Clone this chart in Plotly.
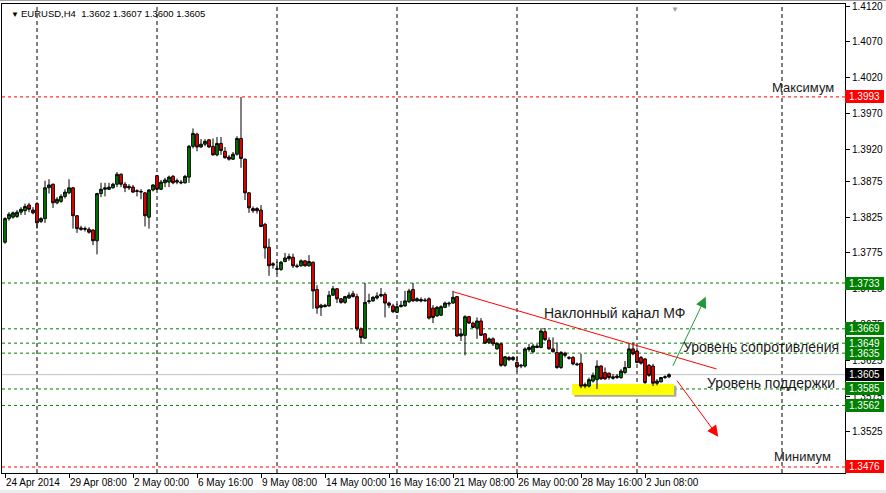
import plotly.graph_objects as go

# ---------------- data (EURUSD H4) ----------------
open_ = [1.3790,1.3823,1.3825,1.3826,1.3832,1.3834,1.3842,1.3835,1.3844,1.3819,
         1.3823,1.3866,1.3871,1.3845,1.3847,1.3854,1.3859,1.3866,1.3827,1.3810,
         1.3808,1.3808,1.3807,1.3792,1.3858,1.3864,1.3864,1.3866,1.3871,1.3885,
         1.3871,1.3868,1.3867,1.3862,1.3860,1.3859,1.3825,1.3863,1.3883,1.3864,
         1.3873,1.3874,1.3882,1.3874,1.3874,1.3873,1.3881,1.3924,1.3941,1.3923,
         1.3927,1.3933,1.3924,1.3912,1.3928,1.3917,1.3909,1.3906,1.3913,1.3935,
         1.3906,1.3859,1.3837,1.3837,1.3835,1.3815,1.3783,1.3760,1.3752,1.3752,
         1.3763,1.3767,1.3769,1.3757,1.3757,1.3764,1.3757,1.3762,1.3724,1.3699,
         1.3702,1.3701,1.3716,1.3725,1.3711,1.3706,1.3712,1.3718,1.3714,1.3669,
         1.3656,1.3707,1.3708,1.3712,1.3715,1.3717,1.3705,1.3701,1.3692,1.3700,
         1.3701,1.3707,1.3724,1.3708,1.3710,1.3708,1.3711,1.3698,1.3687,1.3688,
         1.3699,1.3705,1.3705,1.3714,1.3659,1.3660,1.3686,1.3677,1.3670,1.3680,
         1.3662,1.3650,1.3655,1.3641,1.3648,1.3618,1.3629,1.3626,1.3622,1.3617,
         1.3617,1.3640,1.3637,1.3645,1.3643,1.3665,1.3653,1.3641,1.3636,1.3615,
         1.3635,1.3629,1.3629,1.3620,1.3621,1.3589,1.3589,1.3596,1.3598,1.3617,
         1.3608,1.3607,1.3602,1.3601,1.3601,1.3608,1.3615,1.3641,1.3638,1.3629,
         1.3627,1.3618,1.3617,1.3593,1.3595,1.3601,1.3602]
high = [1.3825,1.3832,1.3833,1.3835,1.3839,1.3844,1.3845,1.3839,1.3846,1.3825,
        1.3876,1.3878,1.3872,1.3853,1.3857,1.3864,1.3878,1.3867,1.3828,1.3813,
        1.3812,1.3811,1.3808,1.3859,1.3873,1.3873,1.3873,1.3873,1.3888,1.3886,
        1.3874,1.3871,1.3870,1.3864,1.3864,1.3860,1.3864,1.3871,1.3884,1.3877,
        1.3880,1.3883,1.3884,1.3879,1.3877,1.3884,1.3926,1.3949,1.3943,1.3934,
        1.3934,1.3934,1.3935,1.3937,1.3937,1.3923,1.3912,1.3916,1.3938,1.3993,
        1.3907,1.3860,1.3840,1.3839,1.3842,1.3817,1.3795,1.3762,1.3763,1.3764,
        1.3775,1.3774,1.3774,1.3760,1.3766,1.3765,1.3772,1.3763,1.3730,1.3704,
        1.3704,1.3722,1.3729,1.3726,1.3712,1.3715,1.3720,1.3722,1.3718,1.3671,
        1.3733,1.3718,1.3715,1.3720,1.3726,1.3720,1.3707,1.3704,1.3704,1.3708,
        1.3722,1.3725,1.3733,1.3713,1.3713,1.3712,1.3713,1.3702,1.3701,1.3702,
        1.3707,1.3707,1.3722,1.3715,1.3669,1.3688,1.3687,1.3679,1.3685,1.3684,
        1.3663,1.3657,1.3657,1.3650,1.3650,1.3631,1.3631,1.3631,1.3631,1.3620,
        1.3643,1.3648,1.3648,1.3648,1.3670,1.3670,1.3657,1.3657,1.3650,1.3638,
        1.3637,1.3631,1.3631,1.3622,1.3634,1.3594,1.3601,1.3608,1.3625,1.3618,
        1.3615,1.3608,1.3606,1.3606,1.3613,1.3624,1.3648,1.3650,1.3643,1.3631,
        1.3628,1.3620,1.3620,1.3599,1.3601,1.3604,1.3607]
low = [1.3788,1.3820,1.3823,1.3824,1.3828,1.3828,1.3832,1.3829,1.3809,1.3817,
       1.3817,1.3858,1.3838,1.3843,1.3845,1.3851,1.3857,1.3809,1.3803,1.3806,
       1.3805,1.3802,1.3786,1.3773,1.3853,1.3854,1.3863,1.3865,1.3867,1.3867,
       1.3860,1.3863,1.3859,1.3854,1.3850,1.3812,1.3809,1.3861,1.3863,1.3863,
       1.3867,1.3867,1.3871,1.3871,1.3871,1.3872,1.3873,1.3921,1.3917,1.3922,
       1.3924,1.3922,1.3911,1.3910,1.3912,1.3907,1.3904,1.3905,1.3911,1.3894,
       1.3849,1.3831,1.3831,1.3830,1.3811,1.3767,1.3743,1.3753,1.3746,1.3750,
       1.3762,1.3764,1.3754,1.3754,1.3756,1.3756,1.3756,1.3697,1.3690,1.3687,
       1.3699,1.3700,1.3715,1.3705,1.3704,1.3704,1.3711,1.3713,1.3666,1.3648,
       1.3655,1.3704,1.3707,1.3710,1.3713,1.3685,1.3698,1.3691,1.3691,1.3699,
       1.3700,1.3705,1.3707,1.3707,1.3706,1.3707,1.3682,1.3677,1.3686,1.3687,
       1.3698,1.3700,1.3704,1.3658,1.3652,1.3632,1.3676,1.3670,1.3655,1.3659,
       1.3648,1.3648,1.3645,1.3640,1.3616,1.3616,1.3624,1.3624,1.3609,1.3614,
       1.3615,1.3637,1.3635,1.3642,1.3642,1.3652,1.3640,1.3636,1.3613,1.3613,
       1.3629,1.3626,1.3618,1.3617,1.3586,1.3586,1.3587,1.3594,1.3585,1.3598,
       1.3598,1.3598,1.3598,1.3599,1.3599,1.3606,1.3614,1.3632,1.3621,1.3619,
       1.3592,1.3602,1.3589,1.3590,1.3594,1.3599,1.3600]
close = [1.3823,1.3829,1.3831,1.3832,1.3836,1.3840,1.3836,1.3831,1.3817,1.3823,
         1.3866,1.3870,1.3845,1.3850,1.3854,1.3860,1.3866,1.3827,1.3809,1.3808,
         1.3809,1.3804,1.3792,1.3858,1.3864,1.3866,1.3867,1.3871,1.3885,1.3871,
         1.3866,1.3866,1.3860,1.3861,1.3861,1.3827,1.3863,1.3870,1.3864,1.3874,
         1.3877,1.3881,1.3873,1.3876,1.3873,1.3882,1.3924,1.3942,1.3923,1.3927,
         1.3931,1.3923,1.3912,1.3928,1.3918,1.3908,1.3906,1.3913,1.3935,1.3907,
         1.3859,1.3838,1.3834,1.3834,1.3812,1.3782,1.3757,1.3758,1.3753,1.3762,
         1.3768,1.3770,1.3757,1.3756,1.3764,1.3757,1.3763,1.3722,1.3698,1.3702,
         1.3700,1.3716,1.3725,1.3711,1.3706,1.3714,1.3716,1.3714,1.3669,1.3657,
         1.3706,1.3708,1.3713,1.3715,1.3717,1.3705,1.3702,1.3693,1.3700,1.3702,
         1.3708,1.3722,1.3708,1.3711,1.3708,1.3709,1.3684,1.3685,1.3699,1.3700,
         1.3705,1.3704,1.3713,1.3659,1.3662,1.3686,1.3677,1.3671,1.3680,1.3660,
         1.3649,1.3655,1.3648,1.3649,1.3618,1.3630,1.3626,1.3629,1.3616,1.3618,
         1.3641,1.3643,1.3645,1.3643,1.3666,1.3654,1.3641,1.3637,1.3615,1.3636,
         1.3632,1.3628,1.3620,1.3619,1.3589,1.3591,1.3598,1.3604,1.3617,1.3599,
         1.3599,1.3601,1.3600,1.3603,1.3610,1.3615,1.3641,1.3634,1.3622,1.3621,
         1.3594,1.3604,1.3593,1.3596,1.3601,1.3602,1.3605]
bars = list(range(len(close)))

x_tick_bars = [0, 16, 32, 48, 64, 80, 96, 112, 128, 144, 160]
x_tick_labels = ["24 Apr 2014", "29 Apr 08:00", "2 May 00:00", "6 May 16:00",
                 "9 May 08:00", "14 May 00:00", "16 May 16:00", "21 May 08:00",
                 "26 May 00:00", "28 May 16:00", "2 Jun 08:00"]
week_grid_bars = [8, 38, 68, 98, 128, 158, 194.25]

y_ticks = [1.4120, 1.4070, 1.4020, 1.3970, 1.3920, 1.3875, 1.3825, 1.3775,
           1.3725, 1.3675, 1.3625, 1.3575, 1.3525]
y_tick_text = ["1.4120", "1.4070", "1.4020", "1.3970", "1.3920", "1.3875", "1.3825",
               "1.3775", "1.3725", "1.3675", "1.3625", "1.3575", "1.3525"]

max_level, min_level = 1.3993, 1.3476
green_levels = [1.3733, 1.3669, 1.3649, 1.3635, 1.3585, 1.3562]
bid_level = 1.3605

trend_bars, trend_prices = [112, 177.9], [1.37209, 1.36129]
up_arrow_bars, up_arrow_prices = [166.8, 175.2], [1.36152, 1.37139]
down_arrow_bars, down_arrow_prices = [167.75, 178.3], [1.35985, 1.35183]
support_zone_bars, support_zone_prices = [141.75, 167.25], [1.35766, 1.35919]

FONT = "Liberation Sans"

fig = go.Figure(go.Candlestick(
    x=bars, open=open_, high=high, low=low, close=close,
    increasing=dict(line=dict(color="black", width=1), fillcolor="#008000"),
    decreasing=dict(line=dict(color="black", width=1), fillcolor="#ff0000"),
    whiskerwidth=0, showlegend=False, hoverinfo="skip"))

shapes = []
# window frame strips
shapes.append(dict(type="rect", xref="paper", yref="paper", layer="below",
                   x0=-0.01, x1=1.06, y0=1.0064, y1=1.0095,
                   fillcolor="#a0a0a0", line=dict(width=0)))
shapes.append(dict(type="rect", xref="paper", yref="paper", layer="below",
                   x0=-0.01, x1=1.06, y0=-0.0440, y1=-0.0365,
                   fillcolor="#ececec", line=dict(width=0)))
shapes.append(dict(type="rect", xref="x", yref="y", layer="below",
                   x0=support_zone_bars[0] + 0.6, x1=support_zone_bars[1] + 0.6,
                   y0=support_zone_prices[0] - 0.00025, y1=support_zone_prices[1] - 0.00025,
                   fillcolor="#a8a8a8", line=dict(width=0)))
shapes.append(dict(type="rect", xref="x", yref="y", layer="below",
                   x0=support_zone_bars[0], x1=support_zone_bars[1],
                   y0=support_zone_prices[0], y1=support_zone_prices[1],
                   fillcolor="#ffff00", line=dict(width=0)))
for xb in week_grid_bars:
    shapes.append(dict(type="line", xref="x", yref="paper", layer="below",
                       x0=xb, x1=xb, y0=0, y1=1,
                       line=dict(color="black", width=1, dash="4px,3px")))
shapes.append(dict(type="line", xref="paper", yref="y", layer="below",
                   x0=0, x1=1, y0=bid_level, y1=bid_level,
                   line=dict(color="#c0c0c0", width=1)))
for lv in green_levels:
    shapes.append(dict(type="line", xref="paper", yref="y", layer="below",
                       x0=0, x1=1, y0=lv, y1=lv,
                       line=dict(color="#008000", width=1, dash="3px,3px")))
for lv in (max_level, min_level):
    shapes.append(dict(type="line", xref="paper", yref="y", layer="below",
                       x0=0, x1=1, y0=lv, y1=lv,
                       line=dict(color="#ff0000", width=1, dash="3px,3px")))
shapes.append(dict(type="line", xref="x", yref="y",
                   x0=trend_bars[0], x1=trend_bars[1],
                   y0=trend_prices[0], y1=trend_prices[1],
                   line=dict(color="#ff0000", width=1)))

ann = []
ann.append(dict(xref="paper", yref="paper", x=0.0, y=1, xanchor="left", yanchor="top",
                xshift=7, yshift=-4, showarrow=False, text="▼",
                font=dict(family=FONT, size=8, color="black")))
ann.append(dict(xref="paper", yref="paper", x=0.0, y=1, xanchor="left", yanchor="top",
                xshift=17, yshift=-2, showarrow=False,
                text="EURUSD,H4&nbsp;&nbsp;1.3602 1.3607 1.3600 1.3605",
                font=dict(family=FONT, size=9.5, color="black")))
ann.append(dict(xref="x", yref="paper", x=167.5, y=1, xanchor="center", yanchor="top",
                yshift=1, showarrow=False, text="▼",
                font=dict(family=FONT, size=8, color="#a0a0a0")))
ann.append(dict(xref="x", yref="y", axref="x", ayref="y",
                x=up_arrow_bars[1], y=up_arrow_prices[1],
                ax=up_arrow_bars[0], ay=up_arrow_prices[0],
                showarrow=True, arrowhead=2, arrowsize=2.2, arrowwidth=1,
                arrowcolor="#1f9a3a", text=""))
ann.append(dict(xref="x", yref="y", axref="x", ayref="y",
                x=down_arrow_bars[1], y=down_arrow_prices[1],
                ax=down_arrow_bars[0], ay=down_arrow_prices[0],
                showarrow=True, arrowhead=2, arrowsize=2.2, arrowwidth=1,
                arrowcolor="#ff0000", text=""))
text_labels = [
    ("Наклонный канал МФ", 134.2, 1.3691, "left", 14),
    ("Уровень сопротивления", 169.0, 1.36436, "left", 14),
    ("Уровень поддержки", 175.0, 1.35933, "left", 14),
    ("Максимум", 207.75, 1.40068, "right", 13),
    ("Минимум", 207.0, 1.3490, "right", 13),
]
for txt, xb, yp, anchor, sz in text_labels:
    ann.append(dict(xref="x", yref="y", x=xb, y=yp, xanchor=anchor, yanchor="middle",
                    showarrow=False, text=txt,
                    font=dict(family=FONT, size=sz, color="#1a1a1a")))
price_tags = [(max_level, "#ff0000")] + [(lv, "#008000") for lv in green_levels[:4]] + \
             [(bid_level, "#000000")] + [(lv, "#008000") for lv in green_levels[4:]] + \
             [(min_level, "#ff0000")]
for lv, col in price_tags:
    ann.append(dict(xref="paper", yref="y", x=1, y=lv, xanchor="left", yanchor="middle",
                    xshift=0, showarrow=False, text=f"{lv:.4f}", bgcolor=col,
                    width=37, height=11, borderpad=1, borderwidth=0, align="center",
                    font=dict(family=FONT, size=10, color="white")))

fig.update_layout(
    template="none",
    width=886, height=493,
    margin=dict(l=2, r=41, t=4, b=20, autoexpand=False),
    paper_bgcolor="white", plot_bgcolor="white",
    boxgap=0.25, boxgroupgap=0.1,
    shapes=shapes, annotations=ann,
    xaxis=dict(range=[-0.75, 210], tickmode="array", tickvals=x_tick_bars,
               ticktext=x_tick_labels, ticks="outside", ticklen=4, tickcolor="black",
               tickangle=0, automargin=False,
               ticklabelposition="outside right",
               tickfont=dict(family=FONT, size=10, color="black"),
               showgrid=False, zeroline=False, showline=True, linecolor="black",
               linewidth=1, mirror=True, rangeslider=dict(visible=False),
               fixedrange=True),
    yaxis=dict(side="right", range=[1.34676, 1.41228], tickmode="array",
               tickvals=y_ticks, ticktext=y_tick_text, automargin=False,
               ticks="outside", ticklen=4, tickcolor="black",
               tickfont=dict(family=FONT, size=10, color="black"),
               showgrid=False, zeroline=False, showline=True, linecolor="black",
               linewidth=1, mirror=True, fixedrange=True),
)

fig.write_html("out.html", config={"displayModeBar": False},
               post_script="document.body.style.margin='0';document.body.style.padding='0';")
